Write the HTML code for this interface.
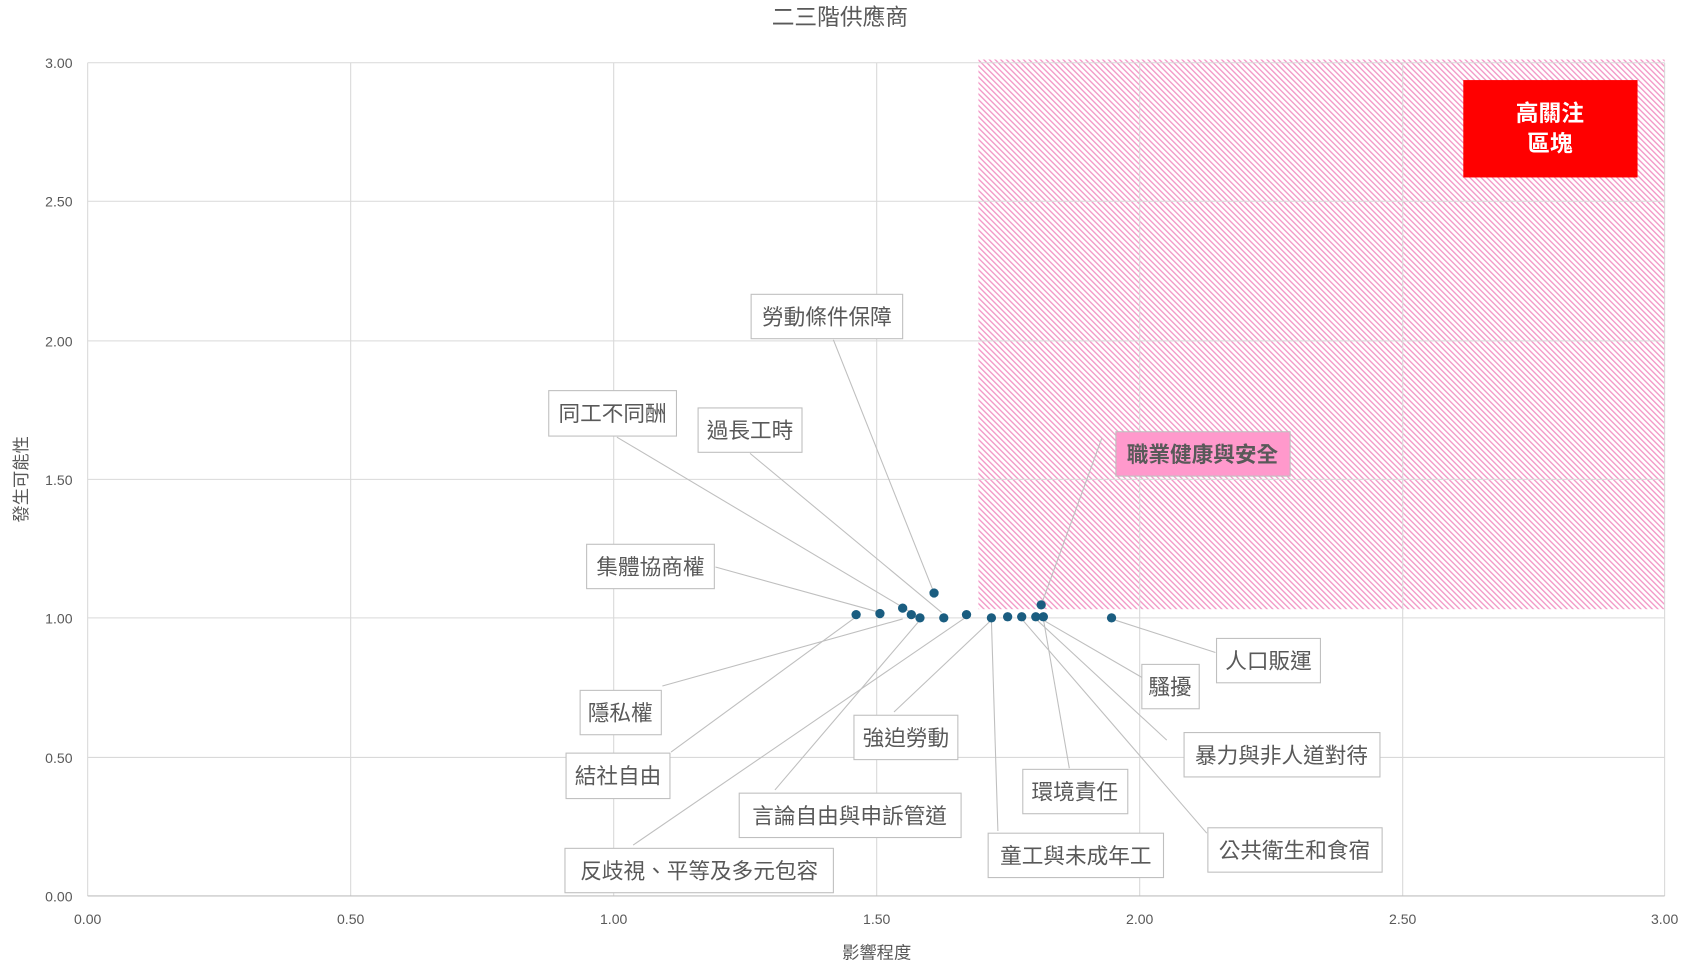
<!DOCTYPE html>
<html><head><meta charset="utf-8"><style>
html,body{margin:0;padding:0;background:#fff;}
svg{display:block;}
text{font-family:"Liberation Sans","Noto Sans CJK TC",sans-serif;}
</style></head><body>
<svg width="1696" height="969" viewBox="0 0 1567 895.5" preserveAspectRatio="none" xmlns="http://www.w3.org/2000/svg">
<defs>
<pattern id="h" patternUnits="userSpaceOnUse" width="3.7" height="3.7" patternTransform="rotate(-45)">
<rect width="3.7" height="3.7" fill="#fff"/>
<rect x="0" y="0" width="1.3" height="3.7" fill="#f39ac8"/>
</pattern>
</defs>
<text x="776" y="23" font-size="21" fill="#595959" text-anchor="middle">二三階供應商</text>
<rect x="904" y="55" width="634" height="508" fill="url(#h)"/>
<g stroke="#d9d9d9" stroke-width="1">
<line x1="81" y1="58" x2="1538" y2="58"/>
<line x1="81" y1="186" x2="1538" y2="186"/>
<line x1="81" y1="315" x2="1538" y2="315"/>
<line x1="81" y1="443" x2="1538" y2="443"/>
<line x1="81" y1="571" x2="1538" y2="571"/>
<line x1="81" y1="700" x2="1538" y2="700"/>
<line x1="324" y1="58" x2="324" y2="828"/>
<line x1="567" y1="58" x2="567" y2="828"/>
<line x1="810" y1="58" x2="810" y2="828"/>
<line x1="1053" y1="58" x2="1053" y2="828"/>
<line x1="1296" y1="58" x2="1296" y2="828"/>
<line x1="1538" y1="58" x2="1538" y2="828"/>
<line x1="81" y1="58" x2="81" y2="828"/>
</g>
<line x1="81" y1="828" x2="1538" y2="828" stroke="#bfbfbf"/>
<g font-size="13" fill="#595959" text-anchor="end">
<text x="67" y="63">3.00</text><text x="67" y="191">2.50</text><text x="67" y="320">2.00</text>
<text x="67" y="448">1.50</text><text x="67" y="576">1.00</text><text x="67" y="705">0.50</text><text x="67" y="833">0.00</text>
</g>
<g font-size="13" fill="#595959" text-anchor="middle">
<text x="81" y="854">0.00</text><text x="324" y="854">0.50</text><text x="567" y="854">1.00</text>
<text x="810" y="854">1.50</text><text x="1053" y="854">2.00</text><text x="1296" y="854">2.50</text><text x="1538" y="854">3.00</text>
</g>
<text x="810" y="886" font-size="16" fill="#595959" text-anchor="middle">影響程度</text>
<text transform="translate(25,443) rotate(-90)" font-size="16" fill="#595959" text-anchor="middle">發生可能性</text>
<rect x="1352" y="74" width="161" height="90" fill="#ff0000"/>
<text x="1432" y="112" font-size="21" font-weight="bold" fill="#fff" text-anchor="middle">高關注</text>
<text x="1432" y="140" font-size="21" font-weight="bold" fill="#fff" text-anchor="middle">區塊</text>
<g stroke="#bfbfbf" stroke-width="1">
<line x1="770" y1="314" x2="863" y2="548"/>
<line x1="570" y1="404" x2="842" y2="566"/>
<line x1="693" y1="419" x2="870" y2="566"/>
<line x1="1018" y1="405" x2="962" y2="559"/>
<line x1="661" y1="524" x2="813" y2="566"/>
<line x1="612" y1="634" x2="834" y2="572"/>
<line x1="620" y1="695" x2="791" y2="570"/>
<line x1="826" y1="658" x2="916" y2="573"/>
<line x1="716" y1="730" x2="850" y2="573"/>
<line x1="585" y1="781" x2="893" y2="570"/>
<line x1="922" y1="768" x2="916" y2="573"/>
<line x1="988" y1="710" x2="964" y2="572"/>
<line x1="1115" y1="770" x2="944" y2="572"/>
<line x1="1078" y1="684" x2="957" y2="572"/>
<line x1="1055" y1="626" x2="962" y2="572"/>
<line x1="1123" y1="603" x2="1027" y2="572"/>
</g>
<g fill="#1a5d80">
<circle cx="791" cy="568" r="4.3"/><circle cx="813" cy="567" r="4.3"/><circle cx="834" cy="562" r="4.3"/>
<circle cx="842" cy="568" r="4.3"/><circle cx="850" cy="571" r="4.3"/><circle cx="863" cy="548" r="4.3"/>
<circle cx="872" cy="571" r="4.3"/><circle cx="893" cy="568" r="4.3"/><circle cx="916" cy="571" r="4.3"/>
<circle cx="931" cy="570" r="4.3"/><circle cx="944" cy="570" r="4.3"/><circle cx="957" cy="570" r="4.3"/>
<circle cx="962" cy="559" r="4.3"/><circle cx="964" cy="570" r="4.3"/><circle cx="1027" cy="571" r="4.3"/>
</g>
<g stroke="#bfbfbf" fill="#fff" stroke-width="1">
<rect x="694" y="272" width="140" height="41"/>
<rect x="507" y="361" width="118" height="42"/>
<rect x="645" y="377" width="96" height="41"/>
<rect x="542" y="503" width="118" height="41"/>
<rect x="536" y="638" width="75" height="41"/>
<rect x="523" y="696" width="96" height="42"/>
<rect x="789" y="661" width="96" height="41"/>
<rect x="683" y="733" width="205" height="41"/>
<rect x="522" y="784" width="248" height="41"/>
<rect x="913" y="770" width="162" height="41"/>
<rect x="945" y="711" width="97" height="41"/>
<rect x="1116" y="765" width="161" height="41"/>
<rect x="1094" y="677" width="181" height="41"/>
<rect x="1055" y="614" width="53" height="41"/>
<rect x="1124" y="590" width="96" height="41"/>
<rect x="1031" y="399" width="161" height="41" fill="#ff99cc"/>
</g>
<g font-size="20" fill="#595959" text-anchor="middle">
<text x="764" y="300">勞動條件保障</text>
<text x="566" y="389">同工不同酬</text>
<text x="693" y="405">過長工時</text>
<text x="601" y="531">集體協商權</text>
<text x="573" y="666">隱私權</text>
<text x="571" y="724">結社自由</text>
<text x="837" y="689">強迫勞動</text>
<text x="785" y="761">言論自由與申訴管道</text>
<text x="646" y="812">反歧視、平等及多元包容</text>
<text x="994" y="798">童工與未成年工</text>
<text x="993" y="739">環境責任</text>
<text x="1196" y="793">公共衛生和食宿</text>
<text x="1184" y="705">暴力與非人道對待</text>
<text x="1081" y="642">騷擾</text>
<text x="1172" y="618">人口販運</text>
<text x="1111" y="427" font-weight="bold">職業健康與安全</text>
</g>
</svg>
</body></html>
